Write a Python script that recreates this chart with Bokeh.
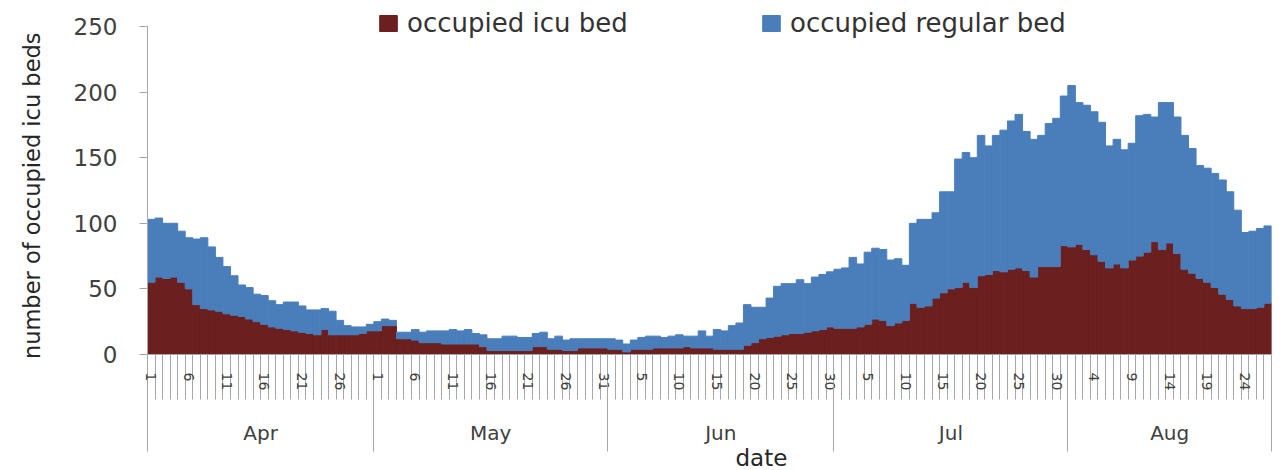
from bokeh.plotting import figure
from bokeh.models import (ColumnDataSource, Range1d, LinearAxis, FixedTicker,
                          Legend, LegendItem, Title)
from bokeh.embed import file_html
from bokeh.resources import INLINE

# ---------------- data ----------------
months = ["Apr", "May", "Jun", "Jul", "Aug"]
days_in_month = [30, 31, 30, 31, 27]

icu_apr = [55, 59, 58, 59, 55, 50, 38, 35, 34, 33, 31, 30, 29, 27, 25, 23, 21, 20, 19, 18,
           17, 16, 15, 19, 15, 15, 15, 15, 16, 18]
icu_may = [18, 22, 22, 12, 12, 11, 9, 9, 9, 8, 8, 8, 8, 8, 6, 3, 3, 3, 3, 3,
           3, 6, 6, 4, 4, 3, 3, 5, 5, 5, 5]
icu_jun = [4, 4, 2, 4, 4, 4, 5, 5, 5, 5, 6, 5, 5, 5, 4, 4, 4, 4, 7, 9,
           12, 13, 14, 15, 16, 16, 17, 18, 19, 21]
icu_jul = [20, 20, 20, 21, 23, 27, 26, 22, 24, 26, 39, 36, 37, 43, 47, 50, 51, 55, 51, 60,
           61, 64, 63, 65, 66, 64, 59, 67, 67, 67, 83]
icu_aug = [82, 84, 80, 76, 71, 66, 69, 66, 72, 75, 78, 86, 80, 85, 77, 65, 62, 58, 55, 51,
           46, 42, 37, 35, 35, 36, 39]

total_apr = [103, 104, 100, 100, 94, 89, 88, 89, 82, 74, 67, 60, 53, 51, 46, 45, 41, 38, 40, 40,
             37, 34, 34, 35, 33, 26, 22, 21, 21, 23]
total_may = [25, 27, 26, 17, 17, 19, 17, 18, 18, 18, 19, 18, 19, 16, 15, 12, 12, 14, 14, 13,
             13, 16, 17, 12, 14, 11, 12, 12, 12, 12, 12]
total_jun = [12, 11, 8, 11, 13, 14, 14, 13, 14, 15, 14, 14, 18, 14, 19, 18, 22, 24, 38, 36,
             36, 43, 52, 54, 54, 57, 54, 59, 61, 63]
total_jul = [65, 66, 74, 69, 78, 81, 80, 72, 73, 68, 100, 103, 103, 108, 124, 124, 149, 154, 150, 167,
             159, 167, 171, 178, 183, 170, 164, 167, 176, 180, 197]
total_aug = [205, 192, 190, 185, 177, 159, 164, 156, 161, 182, 183, 181, 192, 192, 181, 167, 157, 144, 142, 138,
             133, 124, 110, 93, 94, 96, 98]

y_ticks = [0, 50, 100, 150, 200, 250]
series_labels = ["occupied icu bed", "occupied regular bed"]
y_title = "number of occupied icu beds"
x_title = "date"

# ---------------- assemble ----------------
icu = icu_apr + icu_may + icu_jun + icu_jul + icu_aug
total = total_apr + total_may + total_jun + total_jul + total_aug
regular = [t - i for t, i in zip(total, icu)]

day_of_month = []
for n_days in days_in_month:
    day_of_month += list(range(1, n_days + 1))
n = len(day_of_month)
xs = list(range(n))

label_pos = [i for i in xs if i % 5 == 0]
day_bounds = [i - 0.5 for i in range(n + 1)]

month_centers, month_bounds = [], [-0.5]
start = 0
for n_days in days_in_month:
    month_centers.append(start + (n_days - 1) / 2)
    start += n_days
    month_bounds.append(start - 0.5)

src = ColumnDataSource(dict(x=xs, icu=icu, regular=regular))

FONT = "DejaVu Sans"
RED = "#6b1f1f"
BLUE = "#4a7ebb"
GRAY = "#a6a6a6"
TXT = "#404040"

# frame reaches a little above the 250 line so that the legend sits inside it
PX_PER_UNIT = 328 / 250
Y_TOP = y_ticks[-1] + 18 / PX_PER_UNIT

p = figure(frame_width=1124, frame_height=346,
           x_range=Range1d(-0.5, n - 0.5), y_range=Range1d(0, Y_TOP),
           output_backend="svg", toolbar_location=None, x_axis_location=None,
           min_border_left=147, min_border_right=10, min_border_top=8, min_border_bottom=116)
p.grid.visible = False
p.outline_line_color = None

rs = p.vbar_stack(["icu", "regular"], x="x", width=1.0, color=[RED, BLUE],
                  line_width=1, source=src)

legend = Legend(items=[LegendItem(label=series_labels[0], renderers=[rs[0]]),
                       LegendItem(label=series_labels[1], renderers=[rs[1]])],
                orientation="horizontal", location=(230, 316),
                padding=0, margin=0, spacing=102,
                glyph_width=22, glyph_height=20, label_standoff=8, label_width=251,
                label_text_font=FONT, label_text_font_size="26px", label_text_color="#333333",
                border_line_color=None, background_fill_alpha=0)
p.add_layout(legend)

# y axis
yax = p.yaxis[0]
yax.ticker = FixedTicker(ticks=y_ticks)
yax.bounds = (y_ticks[0], y_ticks[-1])
yax.major_tick_out = 8
yax.major_tick_in = 0
yax.minor_tick_out = 0
yax.minor_tick_in = 0
yax.axis_line_color = GRAY
yax.major_tick_line_color = GRAY
yax.major_label_text_font = FONT
yax.major_label_text_font_size = "23px"
yax.major_label_text_color = TXT
yax.major_label_standoff = 22
# trailing no-break spaces move the visible title down toward the 0-250 span, as in the original
yax.axis_label = y_title + "\u00a0" * 4
yax.axis_label_text_font = FONT
yax.axis_label_text_font_size = "22.5px"
yax.axis_label_text_font_style = "normal"
yax.axis_label_text_color = "#262626"
yax.axis_label_standoff = 26

# day axis
day_ax = LinearAxis(ticker=FixedTicker(ticks=label_pos, minor_ticks=day_bounds))
day_ax.major_label_overrides = {i: str(day_of_month[i]) for i in label_pos}
day_ax.major_label_orientation = "vertical"
day_ax.major_label_text_font = FONT
day_ax.major_label_text_font_size = "14px"
day_ax.major_label_text_color = TXT
day_ax.major_label_standoff = -27
day_ax.major_tick_in = 0
day_ax.major_tick_out = 0
day_ax.minor_tick_in = 0
day_ax.minor_tick_out = 45
day_ax.minor_tick_line_color = GRAY
day_ax.axis_line_color = GRAY
p.add_layout(day_ax, "below")

# month axis
mon_ax = LinearAxis(ticker=FixedTicker(ticks=month_centers, minor_ticks=month_bounds))
mon_ax.major_label_overrides = {c: m for c, m in zip(month_centers, months)}
mon_ax.major_label_text_font = FONT
mon_ax.major_label_text_font_size = "20px"
mon_ax.major_label_text_color = TXT
mon_ax.major_label_standoff = -31
mon_ax.major_tick_in = 0
mon_ax.major_tick_out = 0
mon_ax.minor_tick_in = 10
mon_ax.minor_tick_out = 58
mon_ax.minor_tick_line_color = GRAY
mon_ax.axis_line_color = None
p.add_layout(mon_ax, "below")

date_title = Title(text=x_title, align="left", offset=588, standoff=-9,
                   text_font=FONT, text_font_size="23px", text_font_style="normal",
                   text_color="#262626")
p.add_layout(date_title, "below")

open("out.html", "w").write(file_html(p, INLINE))
